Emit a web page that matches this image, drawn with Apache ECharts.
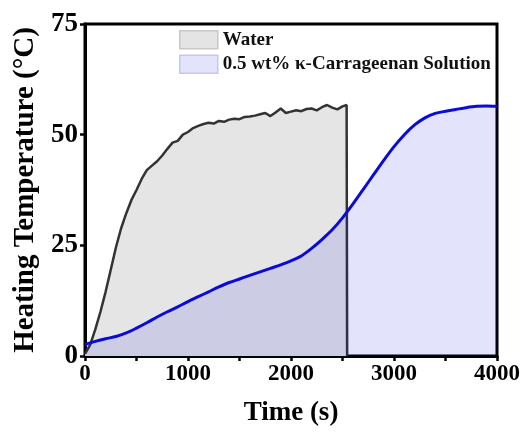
<!DOCTYPE html>
<html><head><meta charset="utf-8">
<script src="https://cdn.jsdelivr.net/npm/echarts@6/dist/echarts.min.js"></script>
<style>html,body{margin:0;padding:0;background:#fff}#c{width:524px;height:434px}</style>
</head><body><div id="c"></div>
<script>
const waterTime = [0,50,100,150,200,250,300,350,400,450,500,550,600,650,700,750,800,850,900,950,1000,1050,1100,1150,1200,1250,1300,1350,1400,1450,1500,1550,1600,1650,1700,1750,1800,1850,1900,1950,2000,2050,2100,2150,2200,2250,2300,2350,2400,2450,2500,2540,2545];
const waterTemp = [0.5,2.5,6,10,14.5,19.5,24.5,28.8,32.2,35.2,37.5,40.0,42.0,43.0,44.0,45.3,46.8,48.2,48.6,50.0,50.6,51.5,52.0,52.4,52.7,52.5,53.1,52.9,53.4,53.6,53.5,54.0,54.1,54.3,54.6,54.9,54.2,55.0,55.9,54.9,55.2,55.5,55.3,55.8,55.9,55.5,56.2,56.7,56.1,55.7,56.4,56.7,0];
const carrTime = [0,100,200,300,400,500,600,700,800,900,1000,1100,1200,1300,1400,1500,1600,1700,1800,1900,2000,2100,2200,2300,2400,2500,2600,2700,2800,2900,3000,3100,3200,3300,3400,3500,3600,3700,3800,3900,4000];
const carrTemp = [2.6,3.3,3.9,4.4,5.2,6.3,7.5,8.8,10.0,11.1,12.3,13.4,14.5,15.6,16.6,17.4,18.2,19.0,19.8,20.6,21.5,22.6,24.3,26.3,28.5,31.2,34.3,37.6,40.9,44.2,47.3,50.0,52.2,53.8,54.8,55.3,55.7,56.1,56.4,56.5,56.4];
const seriesNames = ['Water','0.5 wt% \u03ba-Carrageenan Solution'];
const xTitle = 'Time (s)';
const yTitle = 'Heating Temperature (\u00b0C)';

const FONT = '"Liberation Serif","Times New Roman",serif';
const chart = echarts.init(document.getElementById('c'), null, {renderer:'canvas'});
chart.setOption({
  animation:false,
  backgroundColor:'#fff',
  grid:{left:85,right:27,top:24,bottom:78,show:true,borderColor:'#000',borderWidth:3,backgroundColor:'transparent'},
  legend:{
    orient:'vertical',left:174,top:25,itemGap:5,itemWidth:38,itemHeight:18,
    icon:'rect',
    textStyle:{fontFamily:FONT,fontWeight:'bold',fontSize:19,color:'#111'},
    data:[
      {name:seriesNames[0],itemStyle:{color:'#e4e4e4',borderColor:'#c8c8c8',borderWidth:1.5}},
      {name:seriesNames[1],itemStyle:{color:'#e3e3fb',borderColor:'#c6c6ee',borderWidth:1.5}}
    ]
  },
  xAxis:{
    type:'value',min:0,max:4000,interval:500,
    name:xTitle,nameLocation:'middle',nameGap:44,
    nameTextStyle:{fontFamily:FONT,fontWeight:'bold',fontSize:27,color:'#000'},
    axisLine:{show:true,lineStyle:{color:'#000',width:3}},
    axisTick:{show:true,length:5,lineStyle:{color:'#000',width:2.5}},
    axisLabel:{margin:7,fontFamily:FONT,fontWeight:'bold',fontSize:23,color:'#000',
      formatter:v=>(v%1000===0?String(v):'')},
    splitLine:{show:false}
  },
  yAxis:{
    type:'value',min:0,max:75,interval:25,
    name:yTitle,nameLocation:'middle',nameGap:45,
    nameTextStyle:{fontFamily:FONT,fontWeight:'bold',fontSize:29,color:'#000'},
    axisLine:{show:true,lineStyle:{color:'#000',width:3}},
    axisTick:{show:true,length:5,lineStyle:{color:'#000',width:2.5}},
    axisLabel:{margin:7,fontFamily:FONT,fontWeight:'bold',fontSize:27,color:'#000'},
    splitLine:{show:false}
  },
  series:[
    {name:seriesNames[0],type:'line',showSymbol:false,symbol:'none',z:2,
      data:waterTime.map((t,i)=>[t,waterTemp[i]]),
      lineStyle:{color:'#333333',width:2.5},
      itemStyle:{color:'#e4e4e4'},
      areaStyle:{color:'#e5e5e5',opacity:1}},
    {name:seriesNames[1],type:'line',showSymbol:false,symbol:'none',smooth:0.3,z:3,
      data:carrTime.map((t,i)=>[t,carrTemp[i]]),
      lineStyle:{color:'#0b0bd6',width:3},
      itemStyle:{color:'#e3e3fb'},
      areaStyle:{color:'rgba(12,12,220,0.115)',opacity:1}}
  ]
});
</script></body></html>
